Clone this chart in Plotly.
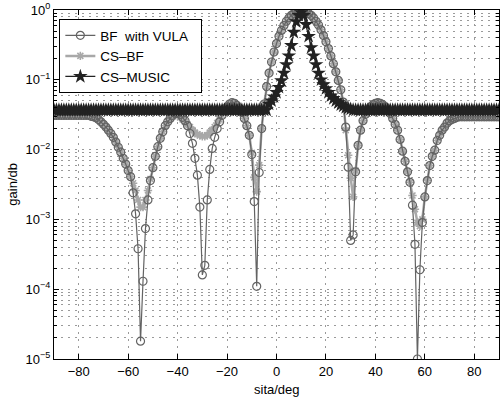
import plotly.graph_objects as go

# Angle grid (deg)
angles = list(range(-90, 91))

# BF with VULA (-90..90 step 1)
bf_vula = [
    0.031, 0.031, 0.031, 0.031, 0.031, 0.031, 0.031, 0.031, 0.031, 0.031,   # -90..-81
    0.031, 0.031, 0.031, 0.031, 0.031, 0.030, 0.0295, 0.0285, 0.027, 0.025,  # -80..-71
    0.023, 0.021, 0.019, 0.017, 0.015, 0.0128, 0.0108, 0.0092, 0.0075, 0.0062,  # -70..-61
    0.0050, 0.0041, 0.0024, 0.0012, 0.00038, 0.000018, 0.00013, 0.00074, 0.0019, 0.0036,  # -60..-51
    0.0055, 0.0080, 0.011, 0.0145, 0.018, 0.022, 0.025, 0.028, 0.031, 0.033,  # -50..-41
    0.033, 0.032, 0.029, 0.026, 0.022, 0.017, 0.0123, 0.0075, 0.0043, 0.0015,  # -40..-31
    0.00016, 0.00022, 0.0019, 0.0052, 0.0104, 0.015, 0.020, 0.025, 0.031, 0.036,  # -30..-21
    0.041, 0.045, 0.047, 0.046, 0.043, 0.039, 0.034, 0.028, 0.022, 0.016,  # -20..-11
    0.0085, 0.0018, 0.00011, 0.0047, 0.020, 0.045, 0.080, 0.125, 0.18, 0.25,  # -10..-1
    0.33, 0.42, 0.51, 0.60, 0.69, 0.77, 0.84, 0.89, 0.93, 0.95,  # 0..9
    0.96, 0.95, 0.93, 0.89, 0.84, 0.77, 0.69, 0.61, 0.52, 0.43,  # 10..19
    0.35, 0.28, 0.22, 0.17, 0.13, 0.098, 0.072, 0.048, 0.021, 0.0056,  # 20..29
    0.0005, 0.0006, 0.0048, 0.0115, 0.019, 0.026, 0.032, 0.037, 0.041, 0.044,  # 30..39
    0.046, 0.047, 0.046, 0.044, 0.041, 0.037, 0.033, 0.028, 0.023, 0.019,  # 40..49
    0.014, 0.0095, 0.0068, 0.0048, 0.0034, 0.0016, 0.00044, 0.00001, 0.00019, 0.0009,  # 50..59
    0.0021, 0.0036, 0.0059, 0.0080, 0.0098, 0.0135, 0.016, 0.019, 0.021, 0.024,  # 60..69
    0.026, 0.027, 0.028, 0.029, 0.0295, 0.0295, 0.0295, 0.0295, 0.0295, 0.0295,  # 70..79
    0.0295, 0.0295, 0.0295, 0.0295, 0.0295, 0.0295, 0.0295, 0.0295, 0.0295, 0.0295,  # 80..89
    0.0295,  # 90
]

# CS-BF
cs_bf = [
    0.031, 0.031, 0.031, 0.031, 0.031, 0.031, 0.031, 0.031, 0.031, 0.031,   # -90..-81
    0.031, 0.031, 0.031, 0.031, 0.031, 0.030, 0.0295, 0.0285, 0.027, 0.025,  # -80..-71
    0.023, 0.021, 0.019, 0.017, 0.015, 0.0128, 0.0108, 0.0092, 0.0075, 0.0062,  # -70..-61
    0.0050, 0.0041, 0.0033, 0.0026, 0.0019, 0.0015, 0.0015, 0.0019, 0.0026, 0.0038,  # -60..-51
    0.0055, 0.0080, 0.011, 0.0145, 0.018, 0.022, 0.025, 0.028, 0.031, 0.031,  # -50..-41
    0.030, 0.029, 0.027, 0.025, 0.023, 0.021, 0.019, 0.0175, 0.0165, 0.016,  # -40..-31
    0.0155, 0.0155, 0.016, 0.0175, 0.019, 0.021, 0.024, 0.027, 0.031, 0.036,  # -30..-21
    0.041, 0.045, 0.047, 0.046, 0.043, 0.039, 0.034, 0.028, 0.022, 0.016,  # -20..-11
    0.009, 0.004, 0.0025, 0.006, 0.020, 0.045, 0.080, 0.125, 0.18, 0.25,  # -10..-1
    0.33, 0.42, 0.51, 0.60, 0.69, 0.77, 0.84, 0.89, 0.93, 0.95,  # 0..9
    0.96, 0.95, 0.93, 0.89, 0.84, 0.77, 0.69, 0.61, 0.52, 0.43,  # 10..19
    0.35, 0.28, 0.22, 0.17, 0.13, 0.098, 0.072, 0.048, 0.019, 0.0083,  # 20..29
    0.0039, 0.0021, 0.005, 0.0115, 0.019, 0.026, 0.032, 0.037, 0.041, 0.044,  # 30..39
    0.046, 0.047, 0.046, 0.044, 0.041, 0.037, 0.033, 0.028, 0.023, 0.019,  # 40..49
    0.014, 0.0095, 0.0068, 0.0048, 0.0034, 0.0022, 0.0014, 0.0009, 0.0008, 0.0010,  # 50..59
    0.0021, 0.0036, 0.0059, 0.0080, 0.0098, 0.0135, 0.016, 0.019, 0.021, 0.024,  # 60..69
    0.026, 0.027, 0.028, 0.029, 0.0295, 0.0295, 0.0295, 0.0295, 0.0295, 0.0295,  # 70..79
    0.0295, 0.0295, 0.0295, 0.0295, 0.0295, 0.0295, 0.0295, 0.0295, 0.0295, 0.0295,  # 80..89
    0.0295,  # 90
]

# CS-MUSIC
cs_music = [
    0.037, 0.037, 0.037, 0.037, 0.037, 0.037, 0.037, 0.037, 0.037, 0.037,  # -90..-81
    0.037, 0.037, 0.037, 0.037, 0.037, 0.037, 0.037, 0.037, 0.037, 0.037,  # -80..-71
    0.037, 0.037, 0.037, 0.037, 0.037, 0.037, 0.037, 0.037, 0.037, 0.037,  # -70..-61
    0.037, 0.037, 0.037, 0.037, 0.037, 0.037, 0.037, 0.037, 0.037, 0.037,  # -60..-51
    0.037, 0.037, 0.037, 0.037, 0.037, 0.037, 0.037, 0.037, 0.037, 0.037,  # -50..-41
    0.037, 0.037, 0.037, 0.037, 0.037, 0.037, 0.037, 0.037, 0.037, 0.037,  # -40..-31
    0.037, 0.037, 0.037, 0.037, 0.037, 0.037, 0.037, 0.037, 0.037, 0.037,  # -30..-21
    0.037, 0.037, 0.037, 0.037, 0.037, 0.037, 0.037, 0.037, 0.037, 0.037,  # -20..-11
    0.037, 0.037, 0.037, 0.037, 0.037, 0.037, 0.037, 0.045, 0.050, 0.057,  # -10..-1
    0.066, 0.078, 0.097, 0.125, 0.165, 0.22, 0.31, 0.48, 0.68, 0.84,  # 0..9
    0.92, 0.84, 0.62, 0.42, 0.29, 0.22, 0.165, 0.125, 0.10, 0.085,  # 10..19
    0.075, 0.066, 0.059, 0.054, 0.050, 0.047, 0.044, 0.042, 0.040, 0.039,  # 20..29
    0.038, 0.037, 0.037, 0.037, 0.037, 0.037, 0.037, 0.037, 0.037, 0.037,  # 30..39
    0.037, 0.037, 0.037, 0.037, 0.037, 0.037, 0.037, 0.037, 0.037, 0.037,  # 40..49
    0.037, 0.037, 0.037, 0.037, 0.037, 0.037, 0.037, 0.037, 0.037, 0.037,  # 50..59
    0.037, 0.037, 0.037, 0.037, 0.037, 0.037, 0.037, 0.037, 0.037, 0.037,  # 60..69
    0.037, 0.037, 0.037, 0.037, 0.037, 0.037, 0.037, 0.037, 0.037, 0.037,  # 70..79
    0.037, 0.037, 0.037, 0.037, 0.037, 0.037, 0.037, 0.037, 0.037, 0.037,  # 80..89
    0.037,  # 90
]

x_ticks = [-80, -60, -40, -20, 0, 20, 40, 60, 80]
y_ticks = [1e-5, 1e-4, 1e-3, 1e-2, 1e-1, 1]
y_ticktext = ["10<sup>\u22125</sup>", "10<sup>\u22124</sup>", "10<sup>\u22123</sup>",
              "10<sup>\u22122</sup>", "10<sup>\u22121</sup>", "10<sup>0</sup>"]
y_minor = [m * 10.0 ** e for e in range(-5, 0) for m in range(2, 10)]

FONT = "Liberation Sans, Arial, sans-serif"
GRID = "#9a9a9a"
DASH = "2px,5px"

fig = go.Figure()
fig.add_trace(go.Scatter(
    x=angles, y=cs_bf, name="CS\u2013BF", mode="lines+markers", legendrank=2,
    line=dict(color="#a8a8a8", width=2.5),
    marker=dict(symbol="asterisk-open", size=7, color="#a8a8a8",
                line=dict(width=1.6, color="#a8a8a8")),
))
fig.add_trace(go.Scatter(
    x=angles, y=bf_vula, name="BF\u00a0 with VULA\u00a0\u00a0", mode="lines+markers", legendrank=1,
    line=dict(color="#636363", width=1.2),
    marker=dict(symbol="circle-open", size=8, color="#636363",
                line=dict(width=1.2, color="#636363")),
))
fig.add_trace(go.Scatter(
    x=angles, y=cs_music, name="CS\u2013MUSIC", mode="lines+markers", legendrank=3,
    line=dict(color="#222222", width=1.3),
    marker=dict(symbol="star", size=11, color="#222222",
                line=dict(width=0, color="#222222")),
))

fig.update_layout(
    width=501, height=402,
    margin=dict(l=54, r=2, t=10, b=43),
    paper_bgcolor="white", plot_bgcolor="white",
    font=dict(family=FONT, size=13, color="black"),
    showlegend=True,
    legend=dict(x=0.012, y=0.974, xanchor="left", yanchor="top",
                bgcolor="white", bordercolor="black", borderwidth=1,
                font=dict(family=FONT, size=13.5, color="black"),
                tracegroupgap=0),
    xaxis=dict(
        range=[-90, 90], tickmode="array", tickvals=x_ticks,
        ticks="inside", ticklen=5, tickcolor="black",
        showline=True, linecolor="black", linewidth=1, mirror="ticks",
        showgrid=True, gridcolor=GRID, griddash=DASH, gridwidth=1,
        zeroline=False, tickfont=dict(family=FONT, size=13, color="black"),
    ),
    yaxis=dict(
        type="log", range=[-5, 0], tickmode="array", tickvals=y_ticks, ticktext=y_ticktext,
        ticks="inside", ticklen=5, tickcolor="black",
        showline=True, linecolor="black", linewidth=1, mirror="ticks",
        showgrid=True, gridcolor=GRID, griddash=DASH, gridwidth=1,
        zeroline=False, tickfont=dict(family=FONT, size=13, color="black"),
        minor=dict(tickmode="array", tickvals=y_minor, ticks="inside", ticklen=3,
                   tickcolor="black", showgrid=True, gridcolor=GRID,
                   griddash=DASH, gridwidth=1),
    ),
    annotations=[
        dict(text="sita/deg", xref="paper", yref="paper", x=0.5, y=-0.086,
             xanchor="center", yanchor="middle", showarrow=False,
             font=dict(family=FONT, size=13, color="black")),
        dict(text="gain/db", xref="paper", yref="paper", x=-0.094, y=0.5,
             xanchor="center", yanchor="middle", showarrow=False, textangle=-90,
             font=dict(family=FONT, size=13, color="black")),
    ],
)

fig.write_html(
    "out.html",
    config={"displayModeBar": False},
    post_script="document.body.style.margin='0';document.body.style.overflow='hidden';",
)
